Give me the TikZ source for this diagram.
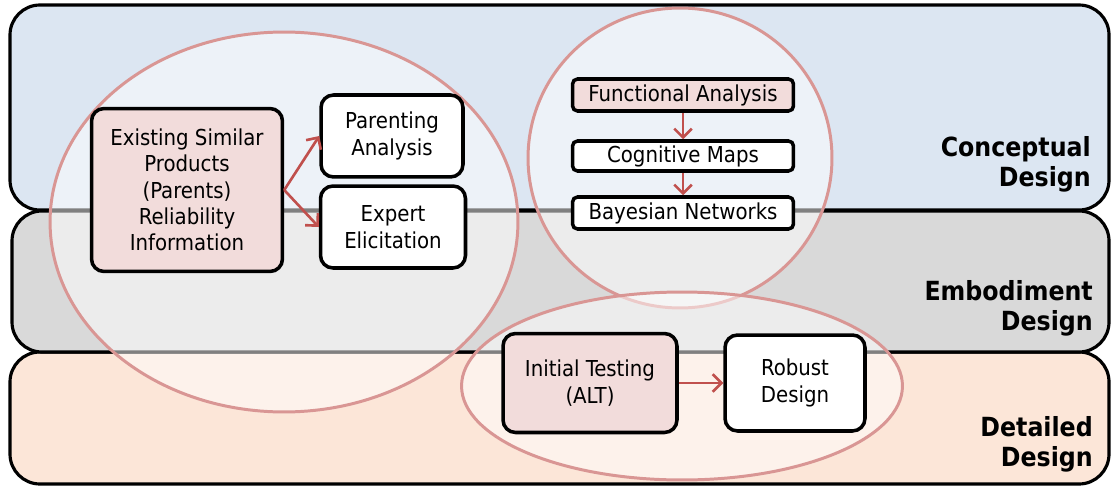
\documentclass[tikz,border=0pt]{standalone}
\usepackage{fontspec}
\setmainfont{DejaVu Sans Condensed}
\usetikzlibrary{arrows.meta,shapes.geometric}

\definecolor{conceptfill}{HTML}{DCE6F2}
\definecolor{embodyfill}{HTML}{D9D9D9}
\definecolor{detailfill}{HTML}{FCE6D8}
\definecolor{pinkfill}{HTML}{F2DCDB}
\definecolor{ringcol}{HTML}{D99694}
\definecolor{arrowcol}{HTML}{C0504D}

\begin{document}
\begin{tikzpicture}[x=0.02cm, y=-0.02cm,
      band/.style = {draw=black, line width=1.8pt, rounded corners=0.6cm},
      group/.style = {shape=ellipse, draw=ringcol, line width=1.7pt,
                      fill=white, fill opacity=0.5, text opacity=1},
      box/.style = {shape=rectangle, draw=black, line width=2pt, fill=white,
                    rounded corners=0.25cm, align=center,
                    font=\fontsize{12.5}{15}\selectfont},
      slim/.style = {box, rounded corners=0.1cm, inner sep=0pt},
      phase/.style = {anchor=east, align=right,
                      font=\bfseries\fontsize{15}{17}\selectfont},
      link/.style = {draw=arrowcol, line width=1.5pt,
                     -{Straight Barb[length=5pt, width=10pt]}}]
    \useasboundingbox (0,0) rectangle (1111,486);
    % the three phases
    \path[band, fill=detailfill] (10,352) rectangle (1109,484);
    \path[band, fill=embodyfill] (12,211) rectangle (1109,352);
    \path[band, fill=conceptfill] (10,5) rectangle (1109,210);
    \node[phase] (conceptual) at (1097,164) {Conceptual\\Design};
    \node[phase] (embodiment) at (1099,308) {Embodiment\\Design};
    \node[phase] (detailed) at (1099,444) {Detailed\\Design};
    % groups
    \node[group, minimum width=9.36cm, minimum height=7.6cm] (parentgrp) at (284,222) {};
    \node[group, minimum width=6.08cm, minimum height=6cm] (mapgrp) at (680,158) {};
    \node[group, minimum width=8.82cm, minimum height=3.76cm] (testgrp) at (682,386) {};
    % boxes
    \node[box, fill=pinkfill, minimum width=3.82cm, minimum height=3.26cm] (existing) at (187,190)
      {Existing Similar\\Products\\(Parents)\\Reliability\\Information};
    \node[box, minimum width=2.84cm, minimum height=1.64cm] (parenting) at (392,136) {Parenting\\Analysis};
    \node[box, minimum width=2.9cm, minimum height=1.64cm] (expert) at (393,227) {Expert\\Elicitation};
    \node[slim, fill=pinkfill, minimum width=4.42cm, minimum height=0.64cm] (functional) at (683,95) {Functional Analysis};
    \node[slim, minimum width=4.42cm, minimum height=0.6cm] (cognitive) at (683,156) {Cognitive Maps};
    \node[slim, minimum width=4.42cm, minimum height=0.64cm] (bayesian) at (683,213) {Bayesian Networks};
    \node[box, fill=pinkfill, minimum width=3.48cm, minimum height=1.98cm] (initial) at (590,383) {Initial Testing\\(ALT)};
    \node[box, minimum width=2.8cm, minimum height=1.92cm] (robust) at (795,383) {Robust\\Design};
    % arrows
    \draw[link] (existing.east) -- (parenting.west);
    \draw[link] (existing.east) -- (expert.west);
    \draw[link] (functional) -- (cognitive);
    \draw[link] (cognitive) -- (bayesian);
    \draw[link] (initial) -- (robust);
\end{tikzpicture}
\end{document}
